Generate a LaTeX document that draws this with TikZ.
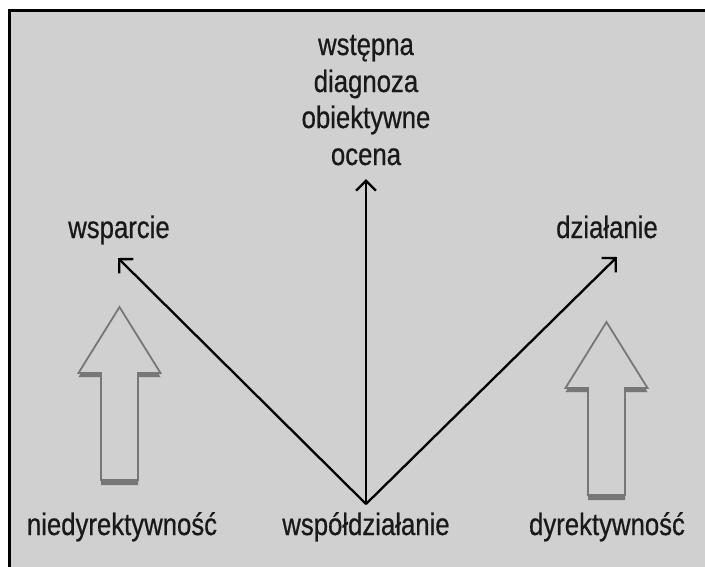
\documentclass[tikz,border=0pt]{standalone}
\usepackage{fontspec}
\setmainfont{Liberation Sans}[FakeStretch=0.83, FakeBold=0.6]
\usetikzlibrary{arrows.meta}
\definecolor{bgray}{HTML}{D0D0D0}
\definecolor{agray}{HTML}{777777}
\tikzset{
  lbl/.style={anchor=base, inner sep=0pt, text=black!90, font=\fontsize{31}{36}\selectfont},
  conn/.style={line width=2.3pt, -{Straight Barb[length=10pt,width=20pt]}},
  blockarrow/.pic={
    \fill[agray] (0,4) -- (-41,70) -- (-18.5,70) -- (-18.5,178) -- (18.5,178) -- (18.5,70) -- (41,70) -- cycle;
    \draw[agray, fill=bgray, line width=1.8pt, line join=miter] (0,0) -- (-41,66) -- (-18.5,66) -- (-18.5,173) -- (18.5,173) -- (18.5,66) -- (41,66) -- cycle;
  }
}
\begin{document}
\begin{tikzpicture}[x=1pt, y=-1pt]
\useasboundingbox (0,0) rectangle (705,566);
\clip (0,0) rectangle (705,566);
\fill[white] (0,0) rectangle (705,566);
\draw[line width=3pt, fill=bgray] (9.5,10.5) rectangle (740,600);

% hollow block arrows
\pic at (119.5,307) {blockarrow};
\pic at (606.5,322) {blockarrow};

% labels
\node[lbl] (t1) at (366,55) {wstępna};
\node[lbl] (t2) at (366,92) {diagnoza};
\node[lbl] (t3) at (366,128) {obiektywne};
\node[lbl] (t4) at (366,165) {ocena};
\node[lbl] (wsp) at (119,238) {wsparcie};
\node[lbl] (dzi) at (607,238) {działanie};
\node[lbl] (nie) at (122,535) {niedyrektywność};
\node[lbl] (wsd) at (366,535) {współdziałanie};
\node[lbl] (dyr) at (607,535) {dyrektywność};

% connectors
\coordinate (o) at (366,504);
\coordinate (tipL) at (118,258);
\coordinate (tipT) at (366,179);
\coordinate (tipR) at (617,257);
\draw[conn] (o) -- (tipL);
\draw[conn] (o) -- (tipT);
\draw[conn] (o) -- (tipR);
\end{tikzpicture}
\end{document}
